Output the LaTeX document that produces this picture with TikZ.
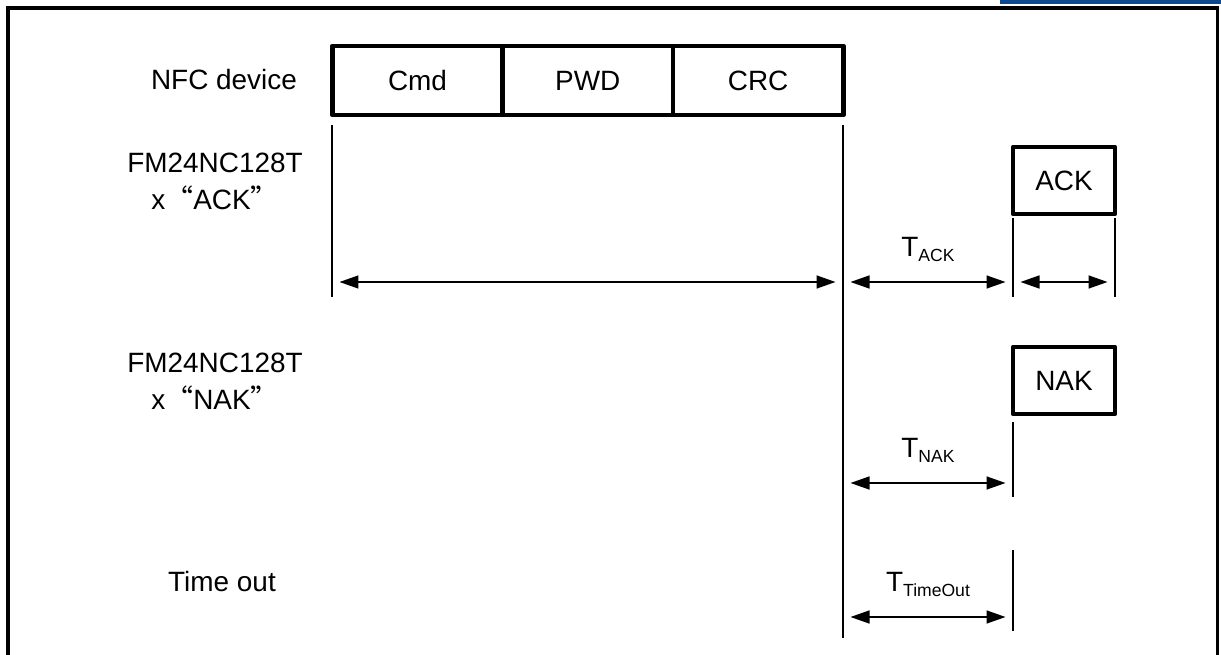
\documentclass[tikz,border=0pt]{standalone}
\usepackage{fontspec}
\setmainfont{Liberation Sans}
\newfontfamily\cjk{Noto Sans CJK SC}
\usetikzlibrary{positioning,arrows.meta}
\definecolor{hdrblue}{RGB}{14,72,142}

% T with a lowered small tag, e.g. T_ACK
\newcommand{\tsub}[1]{T\raisebox{-0.1cm}{\fontsize{10}{12}\selectfont #1}}
% full-width quotes around a reply name
\newcommand{\quoted}[1]{{\cjk “}#1{\cjk ”}}

\begin{document}
\begin{tikzpicture}[
    x=0.02cm,y=-0.02cm,
    >={Triangle[length=0.38cm,width=0.26cm]},
    font=\fontsize{15.9}{21}\selectfont,
    field/.style={rectangle,draw,line width=0.095cm,line join=round,outer sep=0pt,inner sep=0pt,
        minimum width=3.407cm,minimum height=1.38cm},
    reply/.style={rectangle,draw,line width=0.095cm,line join=round,outer sep=0pt,inner sep=0pt,
        minimum width=2.04cm,minimum height=1.34cm},
    lbl/.style={align=center},
    tick/.style={line width=0.055cm},
    span/.style={<->,line width=0.03cm,shorten <=0.15cm,shorten >=0.15cm},
    tname/.style={midway,anchor=base,yshift=0.52cm}]
    \useasboundingbox (0,0) rectangle (1221,655);

    % page frame and header strip
    \fill[hdrblue] (1000,0) rectangle (1221,4.5);
    \draw[line width=0.065cm] (8,655) -- (8,8) -- (1217.5,8) -- (1217.5,655);

    % row names
    \node (nfc) at (224,80) {NFC device};
    \node[lbl] (fmack) at (215,181) {FM24NC128T\\x\quoted{ACK}};
    \node[lbl] (fmnak) at (215,381) {FM24NC128T\\x\quoted{NAK}};
    \node (tout) at (222,582) {Time out};

    % command frame
    \node[field] (cmd) at (417.5,80.5) {Cmd};
    \node[field] (pwd) [right=0pt of cmd] {PWD};
    \node[field] (crc) [right=0pt of pwd] {CRC};

    % replies
    \node[reply] (ack) at (1064,180.5) {ACK};
    \node[reply] (nak) at (1064,380.5) {NAK};

    % time marks
    \coordinate (c0) at (332,125);  \coordinate (c1) at (332,297);
    \coordinate (e0) at (843,125);  \coordinate (e1) at (843,638);
    \coordinate (k0) at (1013,218); \coordinate (k1) at (1013,297);
    \coordinate (r0) at (1115,218); \coordinate (r1) at (1115,297);
    \coordinate (n0) at (1013,422); \coordinate (n1) at (1013,497);
    \coordinate (o0) at (1013,550); \coordinate (o1) at (1013,631);

    \draw[tick] (c0) -- (c1);
    \draw[tick] (e0) -- (e1);
    \draw[tick] (k0) -- (k1);
    \draw[tick] (r0) -- (r1);
    \draw[tick] (n0) -- (n1);
    \draw[tick] (o0) -- (o1);

    % durations
    \draw[span] (c1 |- 0,282) -- (e1 |- 0,282);
    \draw[span] (e1 |- 0,282) -- (k1 |- 0,282) node[tname] (tack) {\tsub{ACK}};
    \draw[span] (k1 |- 0,282) -- (r1 |- 0,282);
    \draw[span] (e1 |- 0,483) -- (n1 |- 0,483) node[tname] (tnak) {\tsub{NAK}};
    \draw[span] (e1 |- 0,617) -- (o1 |- 0,617) node[tname] (tto) {\tsub{TimeOut}};
\end{tikzpicture}
\end{document}
